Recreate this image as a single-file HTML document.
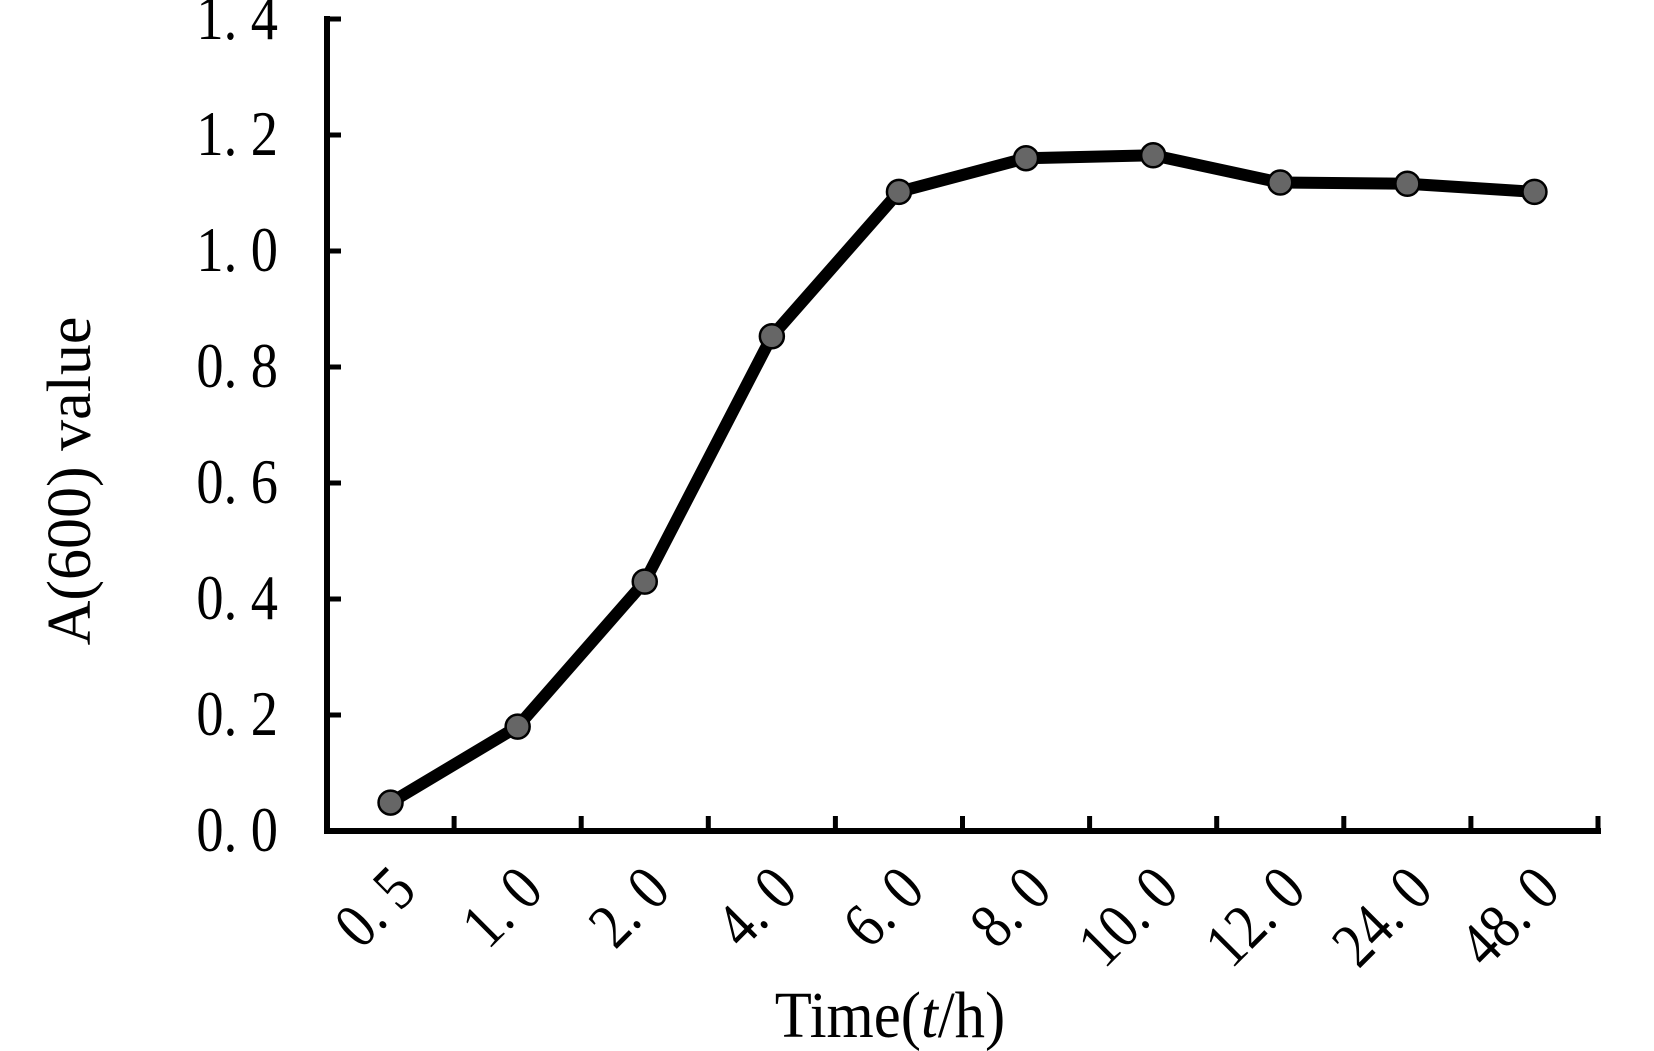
<!DOCTYPE html>
<html><head><meta charset="utf-8"><style>
html,body{margin:0;padding:0;background:#fff;}
svg{display:block;}
text{font-family:"Liberation Serif","Noto Serif CJK SC",serif;fill:#000;}
</style></head><body>
<svg id="chart" width="1654" height="1051" viewBox="0 0 1654 1051">
<g id="axes"></g>
<g id="series"></g>
<text x="0" y="0" font-size="62" text-anchor="middle" transform="translate(90,481) rotate(-90)">A(600) value</text>
<text x="0" y="0" font-size="66" text-anchor="middle" transform="translate(890,1037) scale(0.92,1)">Time(<tspan font-style="italic">t</tspan>/h)</text>
</svg>
<script>
const categories = ["0. 5","1. 0","2. 0","4. 0","6. 0","8. 0","10. 0","12. 0","24. 0","48. 0"];
const values = [0.049,0.18,0.43,0.853,1.102,1.16,1.165,1.118,1.116,1.102];
const yTicks = [0,0.2,0.4,0.6,0.8,1.0,1.2,1.4];
const yTickLabels = ["0. 0","0. 2","0. 4","0. 6","0. 8","1. 0","1. 2","1. 4"];

const NS="http://www.w3.org/2000/svg";
const x0=327,x1=1598,yBase=831,yPerUnit=580;
const band=(x1-x0)/categories.length;
function xScale(i){return x0+band*(i+0.5);}
function yScale(v){return yBase-v*yPerUnit;}
function mk(tag,attrs,parent){const e=document.createElementNS(NS,tag);for(const k in attrs)e.setAttribute(k,attrs[k]);parent.appendChild(e);return e;}
const axes=document.getElementById('axes');
const series=document.getElementById('series');
const yTop=yScale(yTicks[yTicks.length-1]);
let e=mk('line',{x1:x0,y1:yTop-3,x2:x0,y2:yBase+3,stroke:'#000','stroke-width':6},axes);


e=mk('line',{x1:x0-3,y1:yBase,x2:x1+3,y2:yBase,stroke:'#000','stroke-width':6},axes);


yTicks.forEach((v,i)=>{
  const y=yScale(v);
  if(v>0){
    const t=mk('line',{x1:x0,y1:y,x2:x0+14,y2:y,stroke:'#000','stroke-width':5},axes);
    
    
  }
  const l=mk('text',{x:0,y:0,'font-size':64,'text-anchor':'end',transform:`translate(278 ${y+20}) scale(0.85 1)`},axes);
  l.textContent=yTickLabels[i];
  
  
});
for(let i=1;i<=categories.length;i++){
  const x=x0+band*i;
  const t=mk('line',{x1:x,y1:yBase,x2:x,y2:yBase-15,stroke:'#000','stroke-width':5},axes);
  
  
}
categories.forEach((c,i)=>{
  const px=xScale(i)+28,py=893;
  const l=mk('text',{x:0,y:0,'font-size':64,'text-anchor':'end',transform:`translate(${px} ${py}) rotate(-45) scale(0.85 1)`},axes);
  l.textContent=c;
  
  
});
const pts=values.map((v,i)=>xScale(i)+','+yScale(v)).join(' ');
const pl=mk('polyline',{points:pts,fill:'none',stroke:'#000','stroke-width':12,'stroke-linejoin':'round'},series);


values.forEach((v,i)=>{
  const c=mk('circle',{cx:xScale(i),cy:yScale(v),r:12,fill:'#666',stroke:'#000','stroke-width':2.5},series);
  
  
});
</script>
</body></html>
